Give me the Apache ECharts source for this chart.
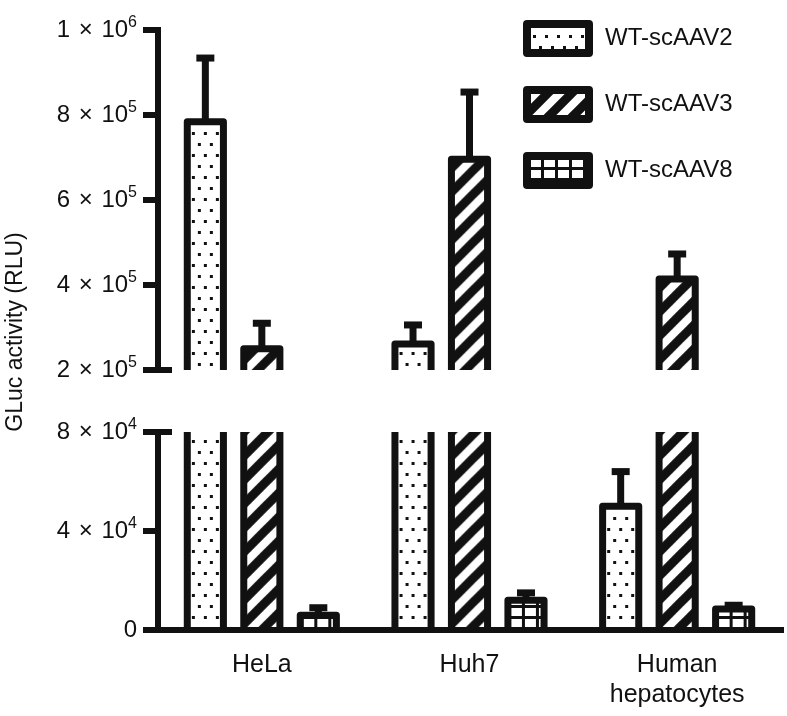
<!DOCTYPE html>
<html><head><meta charset="utf-8">
<script src="https://cdn.jsdelivr.net/npm/echarts@6/dist/echarts.min.js"></script>
<style>html,body{margin:0;padding:0;background:#fff}#c{width:787px;height:716px}</style>
</head><body><div id="c"></div>
<script>
// ---------- data ----------
const categories = ['HeLa', 'Huh7', 'Human\nhepatocytes'];
const seriesNames = ['WT-scAAV2', 'WT-scAAV3', 'WT-scAAV8'];
const aav2Mean = [784000, 261000, 50000];
const aav2Err  = [150000, 45000, 14000];
const aav3Mean = [250000, 696000, 414000];
const aav3Err  = [60000, 158000, 59000];
const aav8Mean = [6000, 12000, 8500];
const aav8Err  = [3000, 3000, 1500];
const upperTickValues = [200000, 400000, 600000, 800000, 1000000];
const upperTickLabels = [['2', '5'], ['4', '5'], ['6', '5'], ['8', '5'], ['1', '6']];
const lowerTickValues = [0, 40000, 80000];
const lowerTickLabels = [['0', ''], ['4', '4'], ['8', '4']];
const yAxisTitle = 'GLuc activity (RLU)';

// ---------- styling ----------
const INK = '#111111';
const FONT = '"Liberation Sans", Arial, Helvetica, sans-serif';
const BORDER = 7;

function makeTile(w, h, draw) {
  const c = document.createElement('canvas');
  c.width = w; c.height = h;
  const ctx = c.getContext('2d');
  ctx.fillStyle = '#ffffff';
  ctx.fillRect(0, 0, w, h);
  draw(ctx);
  return c;
}
const dotTile = makeTile(12, 22, ctx => {
  ctx.fillStyle = INK;
  ctx.fillRect(0, 0, 3, 3);
  ctx.fillRect(6, 11, 3, 3);
});
const stripeTile = makeTile(24, 24, ctx => {
  ctx.strokeStyle = INK;
  ctx.lineWidth = 9;
  ctx.beginPath();
  ctx.moveTo(-24, 24); ctx.lineTo(24, -24);
  ctx.moveTo(0, 24); ctx.lineTo(24, 0);
  ctx.moveTo(0, 48); ctx.lineTo(48, 0);
  ctx.stroke();
});
const gridTile = makeTile(14, 11, ctx => {
  ctx.fillStyle = INK;
  ctx.fillRect(0, 0, 14, 3);
  ctx.fillRect(0, 0, 3, 11);
});
const tiles = [dotTile, stripeTile, gridTile];
const tileOffset = [[-1.5, 0], [0, 0], [0, 0]];
const patterns = tiles.map(t => ({ image: t, repeat: 'repeat' }));
const means = [aav2Mean, aav3Mean, aav8Mean];
const errs = [aav2Err, aav3Err, aav8Err];

function renderBar(k) {
  return function (params, api) {
    const ci = api.value(0), mean = api.value(1), err = api.value(2);
    const band = api.size([1, 0])[0];
    const step = band * 0.272;
    const w = band * 0.174;
    const p = api.coord([ci, mean]);
    const cx = p[0] + (k - 1) * step;
    const yTop = p[1];
    const cs = params.coordSys;
    const yBottom = cs.y + cs.height + BORDER * 2;
    const yErr = api.coord([ci, mean + err])[1];
    const x0 = cx - w / 2, x1 = cx + w / 2;
    const fill = { image: tiles[k], repeat: 'repeat', x: (k === 0 ? cx : x0) + tileOffset[k][0], y: tileOffset[k][1] };
    return {
      type: 'group',
      children: [
        { type: 'rect', shape: { x: x0, y: yTop, width: w, height: Math.max(0, yBottom - yTop) },
          style: { fill: fill, stroke: null } },
        { type: 'polyline', shape: { points: [[x0, yBottom], [x0, yTop], [x1, yTop], [x1, yBottom]] },
          style: { fill: null, stroke: INK, lineWidth: BORDER, lineJoin: 'round' } },
        { type: 'line', shape: { x1: cx, y1: yTop, x2: cx, y2: yErr },
          style: { stroke: INK, lineWidth: 7 } },
        { type: 'line', shape: { x1: cx - 9, y1: yErr, x2: cx + 9, y2: yErr },
          style: { stroke: INK, lineWidth: 7 } }
      ]
    };
  };
}

function tickFormatter(values, labels) {
  return function (v) {
    const i = values.indexOf(v);
    if (i < 0) return '';
    const m = labels[i][0], e = labels[i][1];
    return e ? '{b|' + m + '}{x| \u00d7 }{b|10}{s|' + e + '}' : '{b|' + m + '}';
  };
}
const richLabel = {
  b: { fontSize: 24, fontFamily: FONT, color: INK, lineHeight: 30 },
  x: { fontSize: 24, fontFamily: FONT, color: INK, lineHeight: 30, padding: [0, 2, 0, 2] },
  s: { fontSize: 16, fontFamily: FONT, color: INK, lineHeight: 16, verticalAlign: 'top' }
};
const axisLineStyle = { color: INK, width: 6, cap: 'square' };

const series = [];
[0, 1].forEach(g => {
  [0, 1, 2].forEach(k => {
    series.push({
      type: 'custom',
      name: seriesNames[k],
      xAxisIndex: g,
      yAxisIndex: g * 2,
      clip: true,
      silent: true,
      itemStyle: { color: patterns[k], borderColor: INK, borderWidth: BORDER },
      encode: { x: 0, y: 1 },
      data: categories.map((c, i) => [i, means[k][i], errs[k][i]]),
      renderItem: renderBar(k)
    });
  });
});

const chart = echarts.init(document.getElementById('c'), null, { renderer: 'canvas' });
chart.setOption({
  animation: false,
  backgroundColor: '#ffffff',
  grid: [
    { left: 158, right: 6, top: 30, height: 340 },
    { left: 158, right: 6, top: 432, height: 198 }
  ],
  xAxis: [
    { type: 'category', gridIndex: 0, data: categories, show: false },
    { type: 'category', gridIndex: 1, data: categories, z: 5,
      axisLine: { lineStyle: axisLineStyle },
      axisTick: { alignWithLabel: true, length: 13, lineStyle: { color: INK, width: 5 } },
      axisLabel: { fontSize: 25, fontFamily: FONT, color: INK, margin: 20, lineHeight: 30 } }
  ],
  yAxis: [
    { type: 'value', gridIndex: 0, min: 200000, max: 1000000, interval: 200000,
      axisLine: { show: true, lineStyle: axisLineStyle },
      axisTick: { show: true, length: 15, lineStyle: { color: INK, width: 6 } },
      splitLine: { show: false },
      axisLabel: { margin: 21, formatter: tickFormatter(upperTickValues, upperTickLabels), rich: richLabel } },
    { type: 'value', gridIndex: 0, min: 200000, max: 1000000, position: 'left',
      axisLine: { show: false }, splitLine: { show: false }, axisLabel: { show: false },
      axisTick: { show: true, inside: true, length: 14, customValues: [200000], lineStyle: { color: INK, width: 6 } } },
    { type: 'value', gridIndex: 1, min: 0, max: 80000, interval: 40000,
      axisLine: { show: true, lineStyle: axisLineStyle },
      axisTick: { show: true, length: 15, lineStyle: { color: INK, width: 6 } },
      splitLine: { show: false },
      axisLabel: { margin: 21, formatter: tickFormatter(lowerTickValues, lowerTickLabels), rich: richLabel } },
    { type: 'value', gridIndex: 1, min: 0, max: 80000, position: 'left',
      axisLine: { show: false }, splitLine: { show: false }, axisLabel: { show: false },
      axisTick: { show: true, inside: true, length: 14, customValues: [80000], lineStyle: { color: INK, width: 6 } } }
  ],
  legend: {
    orient: 'vertical', left: 523, top: 20, padding: 0,
    itemWidth: 62, itemHeight: 29, itemGap: 29, icon: 'rect', selectedMode: false,
    data: seriesNames.map((n, k) => ({ name: n, itemStyle: { color: patterns[k] } })),
    itemStyle: { borderColor: INK, borderWidth: 8, borderJoin: 'round' },
    textStyle: { fontSize: 24, fontFamily: FONT, color: INK, padding: [0, 0, 0, 11] }
  },
  graphic: [
    { type: 'text', x: 16, y: 332, rotation: Math.PI / 2,
      style: { text: yAxisTitle, fontSize: 23, fontFamily: FONT, fill: INK, align: 'center', verticalAlign: 'middle' } }
  ],
  series: series
});
</script>
</body></html>
